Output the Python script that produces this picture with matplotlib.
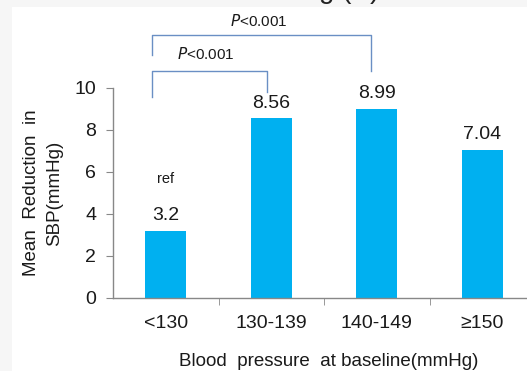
import numpy as np
import matplotlib
matplotlib.use("Agg")
import matplotlib.pyplot as plt
from matplotlib.patches import Rectangle

# data
categories = ["<130", "130-139", "140-149", "≥150"]
reductions = [3.2, 8.56, 8.99, 7.04]
value_labels = ["3.2", "8.56", "8.99", "7.04"]
yticks = [0, 2, 4, 6, 8, 10]

plt.rcParams['font.family'] = ['Liberation Sans', 'DejaVu Sans']

fig = plt.figure(figsize=(5.27, 3.71), dpi=100)

# light grey screenshot border (top and left) and clipped title remnant
fig.patches.append(Rectangle((0, 1 - 7 / 371), 1, 7 / 371, transform=fig.transFigure,
                             facecolor="#f6f6f6", edgecolor="none", zorder=0))
fig.patches.append(Rectangle((0, 0), 12 / 527, 1, transform=fig.transFigure,
                             facecolor="#f6f6f6", edgecolor="none", zorder=0))
fig.text(319 / 527, 1 + 1.5 / 371, "g (A)", fontsize=20, color="#222222",
         ha="left", va="baseline")

ax = fig.add_axes([113 / 527, 73 / 371, 422 / 527, 210 / 371])
x = np.arange(len(categories))
ax.bar(x, reductions, width=0.39, color="#00b0f0", zorder=2)

ax.set_xlim(-0.5, len(categories) - 0.5)
ax.set_ylim(0, 10)
ax.set_yticks(yticks)
ax.set_xticks(x)
ax.set_xticklabels(categories)
ax.set_xticks(np.arange(0.5, len(categories) - 0.5, 1), minor=True)
ax.tick_params(axis="x", which="major", length=0, pad=12, labelsize=14, labelcolor="#1a1a1a")
ax.tick_params(axis="x", which="minor", length=5, color="#888888", direction="out")
ax.tick_params(axis="y", length=5, color="#888888", labelsize=14, labelcolor="#1a1a1a", pad=7)

for side in ["top", "right"]:
    ax.spines[side].set_visible(False)
for side in ["left", "bottom"]:
    ax.spines[side].set_color("#888888")
    ax.spines[side].set_linewidth(1.0)

# value labels above bars
for xi, v, lab in zip(x, reductions, value_labels):
    ax.text(xi, v + 0.32, lab, ha="center", va="bottom", fontsize=14, color="#1a1a1a")
ax.text(0, 5.65, "ref", ha="center", va="center", fontsize=10.5, color="#1a1a1a")

# significance brackets
bcol = "#6a8fc4"
ax.plot([-0.13, -0.13, 1.95, 1.95], [11.57, 12.52, 12.52, 10.81], color=bcol, lw=1.0,
        clip_on=False)
ax.plot([-0.13, -0.13, 0.96, 0.96], [9.57, 10.82, 10.82, 9.81], color=bcol, lw=1.0,
        clip_on=False)
ax.text(0.877, 13.2, r"$\it{P}$<0.001", ha="center", va="center", fontsize=11,
        color="#1a1a1a", clip_on=False)
ax.text(0.375, 11.62, r"$\it{P}$<0.001", ha="center", va="center", fontsize=11,
        color="#1a1a1a", clip_on=False)

fig.text(329 / 527, 1 - 361 / 371, "Blood  pressure  at baseline(mmHg)", fontsize=13.5,
         color="#1a1a1a", ha="center", va="center")
fig.text(43 / 527, 1 - 193 / 371, "Mean  Reduction  in\nSBP(mmHg)", fontsize=13.5,
         color="#1a1a1a", ha="center", va="center", rotation=90, linespacing=1.5)

fig.savefig("out.png", dpi=100)
